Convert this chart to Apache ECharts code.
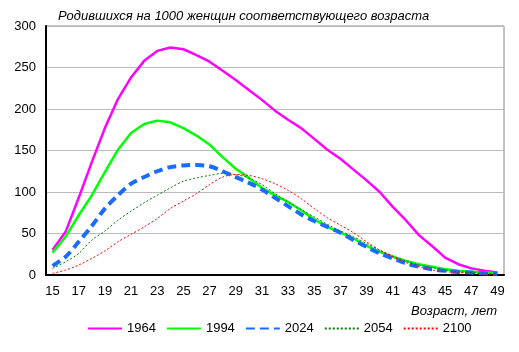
<!DOCTYPE html>
<html>
<head>
<meta charset="utf-8">
<script src="https://cdn.jsdelivr.net/npm/echarts@6/dist/echarts.min.js"></script>
<style>
  html, body { margin: 0; padding: 0; background: #fff; }
  #chart { width: 519px; height: 352px; }
</style>
</head>
<body>
<div id="chart"></div>
<script>
  // возраст матери, лет
  var ages = [];
  for (var a = 15; a <= 49; a++) ages.push(String(a));

  var s1964 = [30, 52, 93, 136, 177, 212, 238, 258, 270, 274, 272, 265, 257, 246, 235, 223, 211, 198, 187, 177,
               164, 151, 140, 127, 114, 100, 82, 66, 48, 35, 21, 13, 8, 5, 3];
  var s1994 = [27, 46, 72, 96, 124, 151, 171, 182, 186, 184, 177, 168, 157, 142, 128, 117, 105, 96, 88, 78,
               67, 58, 51, 44, 35, 28, 22, 17, 13, 10, 7, 5, 4, 3, 2];
  var s2024 = [11, 22, 40, 59, 80, 96, 110, 118, 125, 130, 132, 132.5, 131, 125, 118, 111, 103, 93, 83, 73,
               65, 58, 51, 42, 34, 26, 20, 14, 10, 7, 5, 3.5, 3, 2, 1.5];
  var s2054 = [8, 16, 26, 42, 53, 66, 77, 87, 96, 105, 113, 117, 120, 122.5, 121, 117, 109, 98, 88, 79,
               70, 61, 53, 46, 38, 30, 23, 17, 12, 9, 6, 4, 3, 2, 1];
  var s2100 = [2, 6, 12, 20, 29, 40, 49, 58, 68, 80, 89, 98, 109, 118, 121, 120, 116, 110, 102, 92,
               80, 69, 60, 51, 40, 30, 22, 15, 10, 6, 4, 3, 2, 1, 1];

  var font = 'Liberation Sans, Arial, sans-serif';

  var chart = echarts.init(document.getElementById('chart'));
  chart.setOption({
    animation: false,
    title: [
      {
        text: 'Родившихся на 1000 женщин соответствующего возраста',
        left: 53,
        top: 5,
        textStyle: { fontFamily: font, fontSize: 13, fontStyle: 'italic', fontWeight: 'normal', color: '#000' }
      },
      {
        text: 'Возраст, лет',
        right: 17,
        top: 300,
        textStyle: { fontFamily: font, fontSize: 13, fontStyle: 'italic', fontWeight: 'normal', color: '#000' }
      }
    ],
    legend: {
      left: 82,
      top: 317,
      itemWidth: 34,
      itemHeight: 10,
      itemGap: 10,
      itemStyle: { opacity: 0 },
      textStyle: { fontFamily: font, fontSize: 13, color: '#000' },
      data: ['1964', '1994', '2024', '2054', '2100']
    },
    grid: {
      left: 46,
      right: 15,
      top: 26,
      bottom: 77,
      show: true,
      borderColor: '#888',
      borderWidth: 1
    },
    xAxis: {
      type: 'category',
      data: ages,
      boundaryGap: true,
      axisLine: { lineStyle: { color: '#000', width: 2 } },
      axisTick: { show: false },
      axisLabel: { interval: 1, margin: 10, fontFamily: font, fontSize: 13, color: '#000' }
    },
    yAxis: {
      type: 'value',
      min: 0,
      max: 300,
      interval: 50,
      axisLine: { show: true, lineStyle: { color: '#000', width: 2 } },
      axisTick: { show: false },
      axisLabel: { margin: 10, fontFamily: font, fontSize: 13, color: '#000' },
      splitLine: { lineStyle: { color: '#bbb', width: 1 } }
    },
    series: [
      {
        name: '1964', type: 'line', data: s1964, symbol: 'none',
        itemStyle: { color: '#ff00ff' },
        lineStyle: { color: '#ff00ff', width: 2.5 }
      },
      {
        name: '1994', type: 'line', data: s1994, symbol: 'none',
        itemStyle: { color: '#00ff00' },
        lineStyle: { color: '#00ff00', width: 2.5 }
      },
      {
        name: '2024', type: 'line', data: s2024, symbol: 'none', smooth: 0.3,
        itemStyle: { color: '#1a6cff' },
        lineStyle: { color: '#1a6cff', width: 4, type: [9, 5] }
      },
      {
        name: '2054', type: 'line', data: s2054, symbol: 'none', smooth: 0.3,
        itemStyle: { color: '#008000' },
        lineStyle: { color: '#008000', width: 1, type: [2, 2] }
      },
      {
        name: '2100', type: 'line', data: s2100, symbol: 'none', smooth: 0.3,
        itemStyle: { color: '#ff0000' },
        lineStyle: { color: '#ff0000', width: 1, type: [2, 2] }
      }
    ]
  });
</script>
</body>
</html>
